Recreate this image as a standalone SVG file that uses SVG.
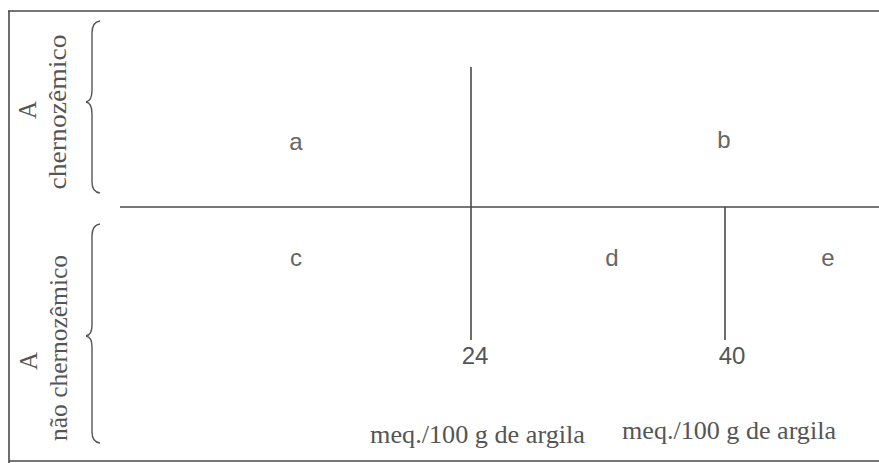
<svg xmlns="http://www.w3.org/2000/svg" width="879" height="463" viewBox="0 0 879 463">
<style>
.ln{stroke:#4a4a4a;stroke-width:1.6;fill:none}
.br{stroke:#555;stroke-width:1.4;fill:none}
.lt{font-family:"Liberation Sans",Arial,sans-serif;font-size:24px;fill:#666;text-anchor:middle}
.num{font-family:"Liberation Sans",Arial,sans-serif;font-size:24px;fill:#555;text-anchor:middle}
.sf{font-family:"Liberation Serif","Times New Roman",serif;font-size:25px;fill:#555}
</style>
<rect width="879" height="463" fill="#fff"/>
<g id="frame">
<path class="ln" d="M8,11 H879 M9,11 V463 M9,461 H879"/>
</g>
<g id="connectors">
<line class="ln" x1="120" y1="207" x2="879" y2="207"/>
<line class="ln" x1="471" y1="67" x2="471" y2="340"/>
<line class="ln" x1="725" y1="207" x2="725" y2="340"/>
</g>
<g id="brace-top">
<path class="br" d="M100,21 Q92,22 92,33 V90 Q92,101 86,102 Q92,103 92,114 V182 Q92,192 100,193"/>
</g>
<g id="brace-bottom">
<path class="br" d="M100,224 Q92,225 92,236 V325 Q92,335 86,336 Q92,337 92,347 V432 Q92,442 100,443"/>
</g>
<g id="label-top">
<text class="sf" transform="translate(36,110) rotate(-90)" text-anchor="middle">A</text>
<text class="sf" transform="translate(66,112) rotate(-90)" text-anchor="middle" textLength="155" lengthAdjust="spacingAndGlyphs">chernozêmico</text>
</g>
<g id="label-bottom">
<text class="sf" transform="translate(37,361) rotate(-90)" text-anchor="middle">A</text>
<text class="sf" transform="translate(67,348) rotate(-90)" text-anchor="middle" textLength="186" lengthAdjust="spacingAndGlyphs">não chernozêmico</text>
</g>
<g id="node-a"><text class="lt" x="296" y="150">a</text></g>
<g id="node-b"><text class="lt" x="724" y="148">b</text></g>
<g id="node-c"><text class="lt" x="296" y="266">c</text></g>
<g id="node-d"><text class="lt" x="612" y="266">d</text></g>
<g id="node-e"><text class="lt" x="828" y="266">e</text></g>
<g id="tick-24"><text class="num" x="475" y="364">24</text></g>
<g id="tick-40"><text class="num" x="732" y="364">40</text></g>
<g id="unit-1"><text class="sf" x="370" y="443" textLength="215" lengthAdjust="spacingAndGlyphs">meq./100 g de argila</text></g>
<g id="unit-2"><text class="sf" x="622" y="439" textLength="214" lengthAdjust="spacingAndGlyphs">meq./100 g de argila</text></g>
</svg>
